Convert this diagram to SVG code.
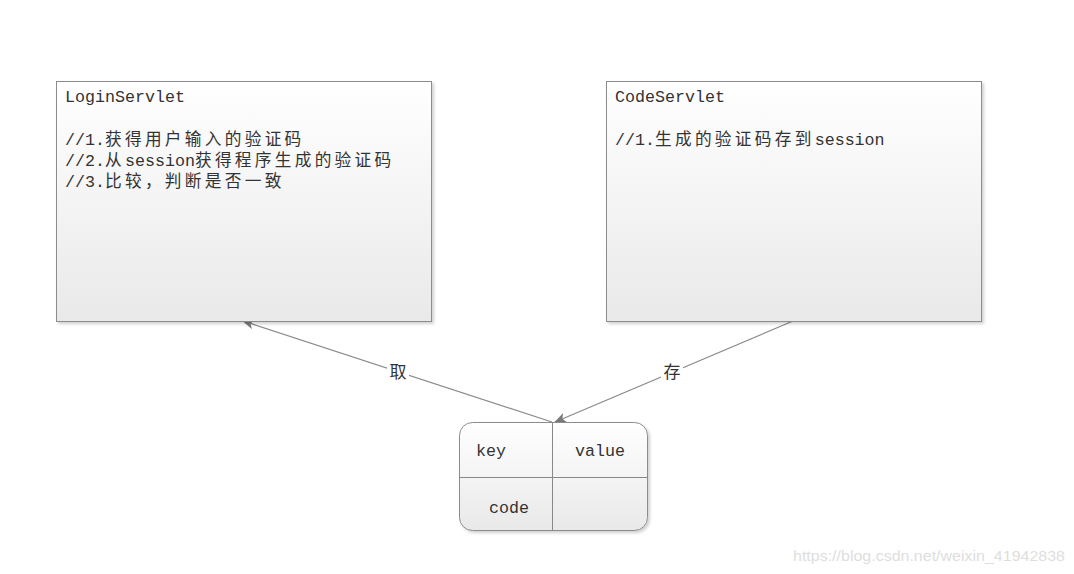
<svg xmlns="http://www.w3.org/2000/svg" width="1074" height="574" viewBox="0 0 1074 574">
<defs>
<linearGradient id="g" x1="0" y1="0" x2="0" y2="1">
<stop offset="0" stop-color="#ffffff"/>
<stop offset="1" stop-color="#e9e9e9"/>
</linearGradient>
<filter id="sh" x="-5%" y="-5%" width="115%" height="115%">
<feDropShadow dx="2" dy="2" stdDeviation="1.5" flood-color="#000" flood-opacity="0.18"/>
</filter>
<marker id="ah" markerWidth="12" markerHeight="10" refX="11" refY="5" orient="auto" markerUnits="userSpaceOnUse">
<path d="M0,0 L12,5 L0,10 L3,5 Z" fill="#7a7a7a"/>
</marker>
</defs>
<style>
.box{fill:url(#g);stroke:#8c8c8c;stroke-width:1;filter:url(#sh)}
.t{font-family:'Liberation Mono','Noto Sans CJK SC',monospace;font-size:16.67px;fill:#333}
.cj{letter-spacing:3.3px}
.edge{stroke:#8a8a8a;stroke-width:1.2;fill:none;marker-end:url(#ah)}
.lbl{font-family:'Noto Sans CJK SC',sans-serif;font-size:17px;fill:#333}
.div{stroke:#888;stroke-width:1}
</style>
<rect width="1074" height="574" fill="#ffffff"/>
<g id="connectors">
<line class="edge" x1="552" y1="422" x2="243" y2="321"/>
<line class="edge" x1="793" y1="321" x2="555" y2="422"/>
<rect x="387" y="361" width="22" height="22" fill="#fff"/>
<text class="lbl" x="398" y="378" text-anchor="middle">取</text>
<rect x="661" y="361" width="22" height="22" fill="#fff"/>
<text class="lbl" x="672" y="378" text-anchor="middle">存</text>
</g>
<g id="login">
<rect class="box" x="56.5" y="81.5" width="375" height="240"/>
<text class="t" x="65" y="102">LoginServlet</text>
<text class="t" x="65" y="145">//1.<tspan class="cj">获得用户输入的验证码</tspan></text>
<text class="t" x="65" y="166">//2.<tspan class="cj">从</tspan>session<tspan class="cj">获得程序生成的验证码</tspan></text>
<text class="t" x="65" y="187">//3.<tspan class="cj">比较，判断是否一致</tspan></text>
</g>
<g id="code">
<rect class="box" x="606.5" y="81.5" width="375" height="240"/>
<text class="t" x="615" y="102">CodeServlet</text>
<text class="t" x="615" y="145">//1.<tspan class="cj">生成的验证码存到</tspan>session</text>
</g>
<g id="session-table">
<rect class="box" x="459.5" y="422.5" width="188" height="108" rx="13" ry="13"/>
<line class="div" x1="552.5" y1="422.5" x2="552.5" y2="530.5"/>
<line class="div" x1="459.5" y1="477.5" x2="647.5" y2="477.5"/>
<text class="t" x="476" y="456">key</text>
<text class="t" x="575" y="456">value</text>
<text class="t" x="489" y="513">code</text>
</g>
<text x="793" y="561" textLength="272" lengthAdjust="spacingAndGlyphs" font-family="'Liberation Sans',Arial,sans-serif" font-size="15.5" fill="#dedede">https://blog.csdn.net/weixin_41942838</text>
</svg>
